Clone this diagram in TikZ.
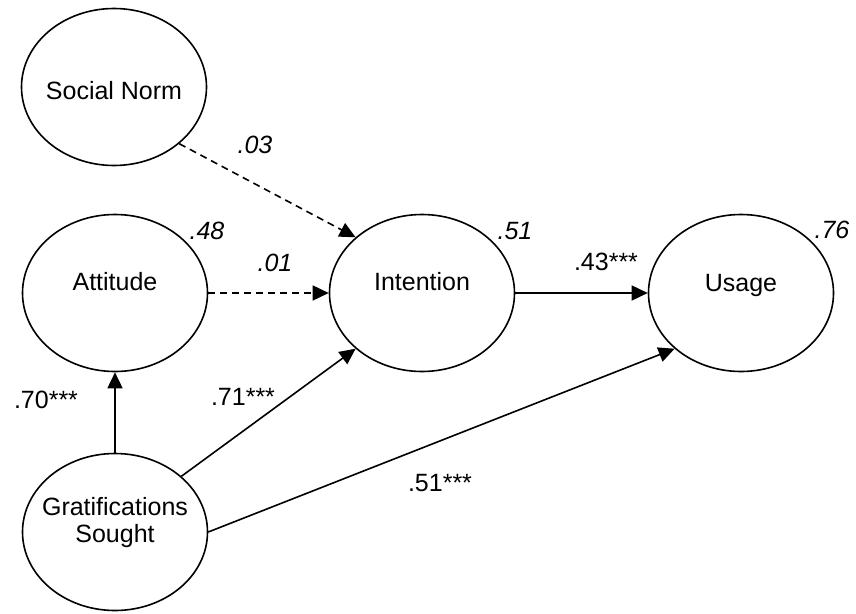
\documentclass[tikz,border=0pt]{standalone}
\usepackage{fontspec}
\setmainfont{Liberation Sans}
\usetikzlibrary{shapes.geometric, arrows.meta}

\begin{document}
\begin{tikzpicture}[x=1pt, y=-1pt,
                construct/.style={draw, ellipse, line width=1.6pt, minimum width=185pt, minimum height=157pt, inner sep=0pt},
                varname/.style={font=\fontsize{25}{27}\selectfont, align=center},
                effect/.style={line width=1.6pt, -{Triangle[length=16pt, width=15pt]}},
                weak/.style={effect, dash pattern=on 7pt off 5pt},
                coef/.style={font=\fontsize{25}{30}\selectfont, inner sep=0pt},
                rsq/.style={coef, font=\fontsize{25}{30}\selectfont\itshape}]
                \useasboundingbox (0, 0) rectangle (856, 613);
                \node [construct, label={[varname, yshift=-4pt]center:Social Norm}] (sn) at (114, 87) {};
                \node [construct, label={[varname, yshift=11pt]center:Attitude}] (att) at (115, 293) {};
                \node [construct, label={[varname, yshift=11pt]center:Intention}] (int) at (422, 293) {};
                \node [construct, label={[varname, yshift=8pt]center:Usage}] (use) at (741, 293) {};
                \node [construct, label={[varname, yshift=9pt]center:Gratifications\\Sought}] (gs) at (115, 532) {};
                \draw [weak] (sn.-41) -- (int.140);
                \draw [weak] (att.east) -- (int.west);
                \draw [effect] (int.east) -- (use.west);
                \draw [effect] (gs.north) -- (att.south);
                \draw [effect] (gs.40) -- (int.220);
                \draw [effect] (gs.east) -- (use.220);
                \node [rsq] (r2att) at (207, 231) {.48};
                \node [rsq] (r2int) at (515, 231) {.51};
                \node [rsq] (r2use) at (832, 230) {.76};
                \node [rsq] (bsn) at (255, 145) {.03};
                \node [rsq] (batt) at (275, 263) {.01};
                \node [coef] (bint) at (606, 262) {.43***};
                \node [coef] (bgsatt) at (46, 400) {.70***};
                \node [coef] (bgsint) at (243, 397) {.71***};
                \node [coef] (bgsuse) at (440, 483) {.51***};
            \end{tikzpicture}
\end{document}
